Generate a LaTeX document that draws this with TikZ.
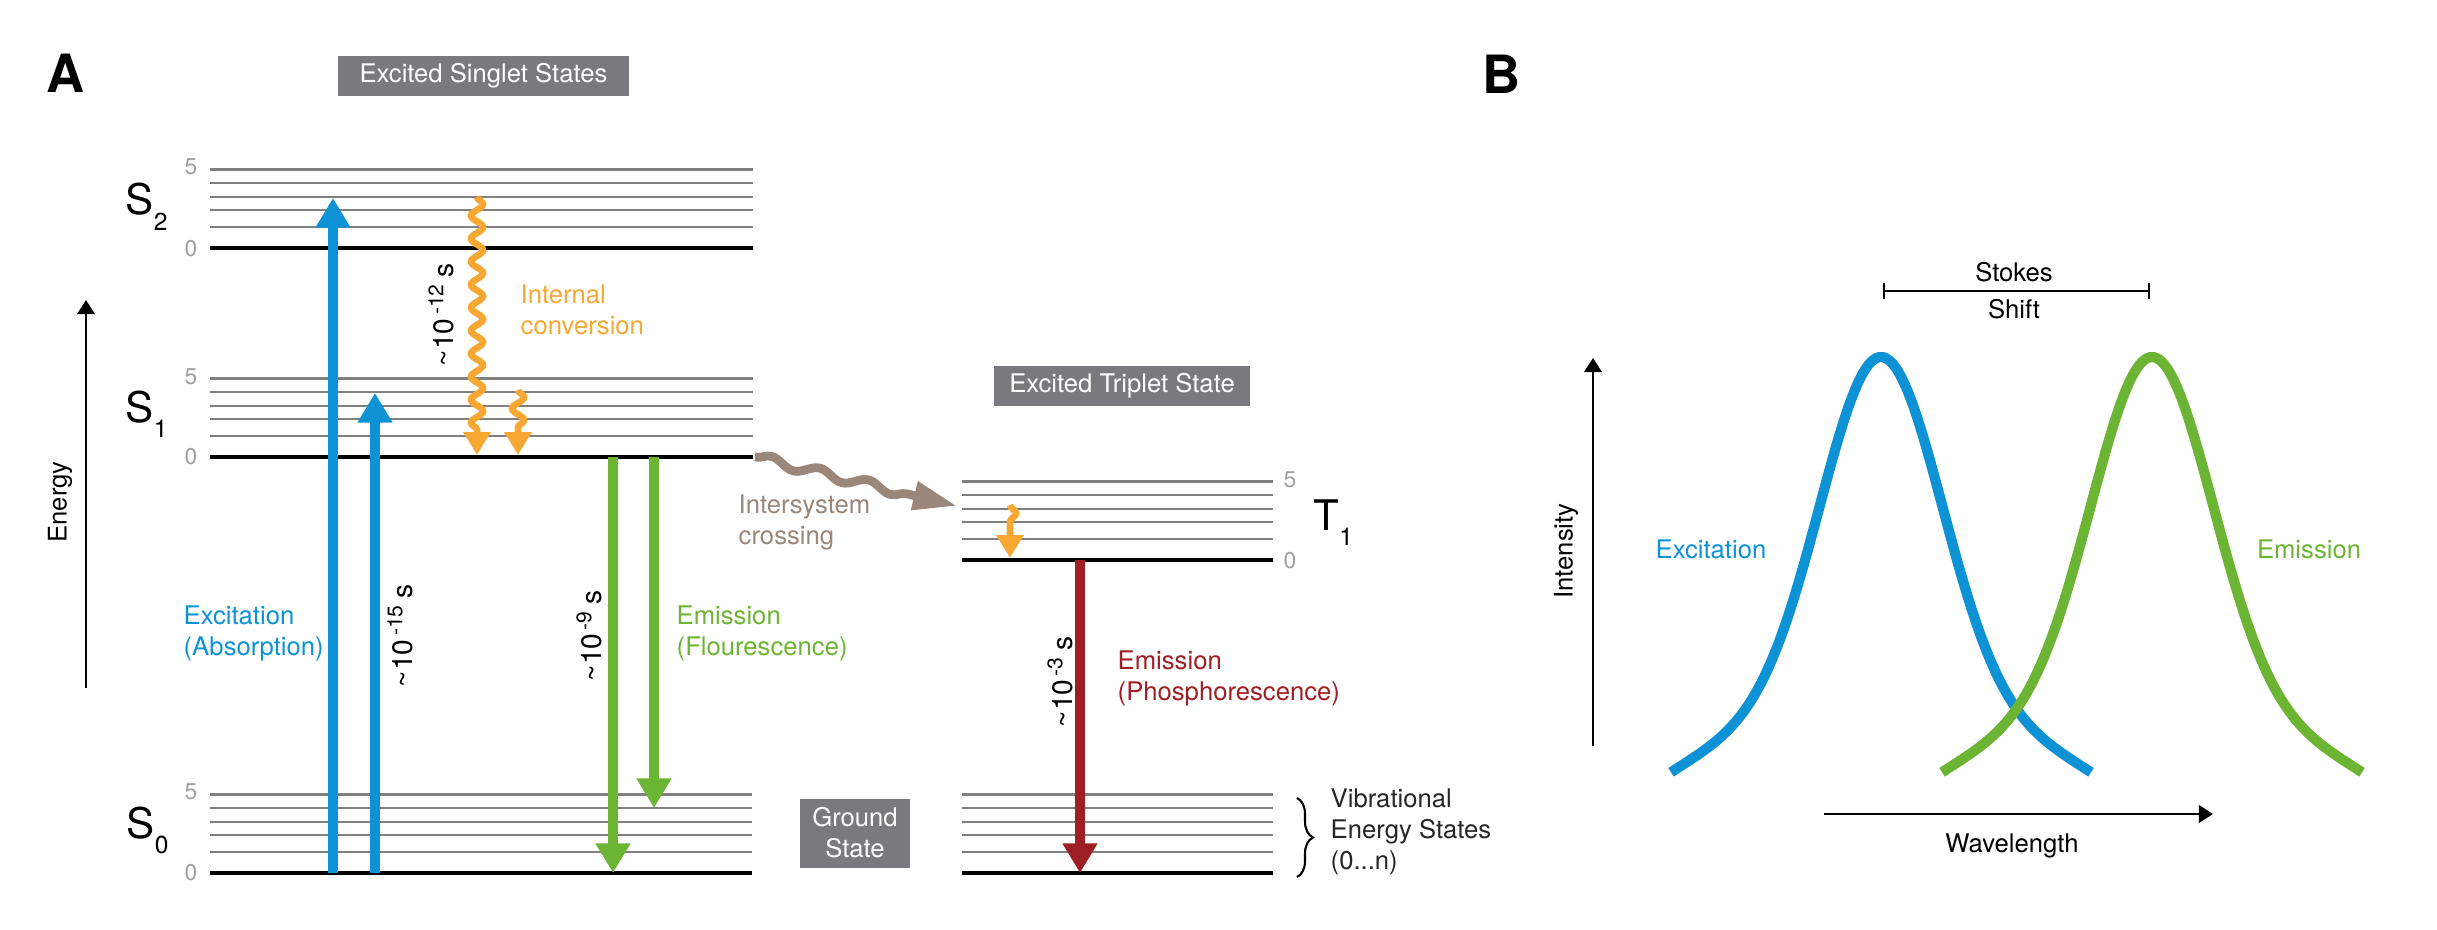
\documentclass[tikz,border=0pt]{standalone}
\usepackage{fontspec}
\setmainfont{TeX Gyre Heros}
\usetikzlibrary{arrows.meta,decorations.pathmorphing,decorations.pathreplacing}

\definecolor{absblue}{RGB}{14,146,214}
\definecolor{flgreen}{RGB}{108,180,52}
\definecolor{icorange}{RGB}{247,168,51}
\definecolor{phred}{RGB}{158,30,36}
\definecolor{iscbrown}{RGB}{155,134,122}
\definecolor{boxgray}{RGB}{122,122,126}
\definecolor{linegray}{RGB}{128,128,128}
\definecolor{numgray}{RGB}{160,160,160}

\tikzset{
  vibline/.style={draw=linegray, line width=0.6pt},
  zeroline/.style={draw=black, line width=0.9pt},
  statebox/.style={fill=boxgray, text=white, inner sep=0pt, align=center,
    font=\fontsize{7.3}{8.8}\selectfont},
  bigarrow/.style={line width=2.9pt, -{Triangle[width=9.4pt,length=8.4pt]}},
  wavy/.style={icorange, line width=1.9pt, -{Triangle[width=7.4pt,length=6.5pt]},
    decorate, decoration={snake, segment length=2.3mm, amplitude=0.6mm, post length=2.4mm}},
  lbl/.style={font=\fontsize{7.3}{8.8}\selectfont, inner sep=0pt, align=left},
  timelbl/.style={font=\fontsize{8}{8}\selectfont, inner sep=0pt, rotate=90},
  num/.style={text=numgray, font=\fontsize{6.5}{6.5}\selectfont, inner sep=0pt},
  axis/.style={line width=0.5pt, -{Triangle[width=5pt,length=4pt]}},
  spectrum/.style={line width=2.9pt},
}

% ladder of vibrational levels: x from, x to, y of level 0
\newcommand{\ladder}[3]{%
  \foreach \d in {0.21,0.38,0.51,0.65,0.785} \draw[vibline] (#1,#3-\d) -- (#2,#3-\d);
  \draw[zeroline] (#1,#3) -- (#2,#3);}
\newcommand{\slabel}[2]{{\fontsize{12}{12}\selectfont #1}\raisebox{-4.3pt}{\fontsize{7}{7}\selectfont #2}}
% band shape, peak at 0
\newcommand{\band}[1]{7.73-4.16*(0.85*exp(-(#1)*(#1)/0.72)+0.15*(1-(#1)*(#1)/4.41))}

\begin{document}
\begin{tikzpicture}[x=1cm, y=-1cm]
  \useasboundingbox (0,0) rectangle (24.37,9.30);

  % panel A
  \node[font=\fontsize{15}{15}\selectfont\bfseries, inner sep=0pt] (panA) at (0.66,0.73) {A};
  \node[statebox, minimum width=2.91cm, minimum height=0.40cm] (singbox) at (4.835,0.76) {Excited Singlet States};
  \node[statebox, minimum width=2.56cm, minimum height=0.40cm] (tripbox) at (11.22,3.86) {Excited Triplet State};
  \node[statebox, minimum width=1.10cm, minimum height=0.69cm] (gndbox) at (8.55,8.33) {Ground\\State};

  % levels
  \ladder{2.10}{7.53}{2.48}
  \ladder{2.10}{7.53}{4.57}
  \ladder{2.10}{7.52}{8.73}
  \ladder{9.62}{12.73}{5.60}
  \ladder{9.62}{12.73}{8.73}

  \node[anchor=base west, inner sep=0pt] (s2) at (1.25,2.15) {\slabel{S}{2}};
  \node[anchor=base west, inner sep=0pt] (s1) at (1.25,4.22) {\slabel{S}{1}};
  \node[anchor=base west, inner sep=0pt] (s0) at (1.26,8.38) {\slabel{S}{0}};
  \node[anchor=base west, inner sep=0pt] (t1) at (13.13,5.30) {\slabel{T}{1}};

  \node[num] (s2five) at (1.91,1.67) {5};  \node[num] (s2zero) at (1.91,2.49) {0};
  \node[num] (s1five) at (1.91,3.77) {5};  \node[num] (s1zero) at (1.91,4.57) {0};
  \node[num] (s0five) at (1.91,7.92) {5};  \node[num] (s0zero) at (1.91,8.73) {0};
  \node[num] (t1five) at (12.90,4.80) {5}; \node[num] (t1zero) at (12.90,5.61) {0};

  % energy axis
  \coordinate (enBot) at (0.86,6.88);
  \coordinate (enTop) at (0.86,3.00);
  \draw[axis] (enBot) -- (enTop);
  \node[lbl, rotate=90] (enlbl) at (0.60,5.02) {Energy};

  % excitation
  \coordinate (exaBot) at (3.33,8.73); \coordinate (exaTop) at (3.33,1.98);
  \coordinate (exbBot) at (3.75,8.73); \coordinate (exbTop) at (3.75,3.93);
  \draw[bigarrow, absblue] (exaBot) -- (exaTop);
  \draw[bigarrow, absblue] (exbBot) -- (exbTop);
  \node[lbl, absblue, anchor=west] (exclbl) at (1.83,6.33) {Excitation\\(Absorption)};
  \node[timelbl] (t15) at (4.00,6.36) {\textasciitilde10\textsuperscript{\,-15}\,s};

  % internal conversion
  \coordinate (icaTop) at (4.77,1.97); \coordinate (icaBot) at (4.77,4.55);
  \coordinate (icbTop) at (5.18,3.90); \coordinate (icbBot) at (5.18,4.55);
  \coordinate (ictTop) at (10.10,5.05); \coordinate (ictBot) at (10.10,5.58);
  \draw[wavy] (icaTop) -- (icaBot);
  \draw[wavy] (icbTop) -- (icbBot);
  \draw[wavy, decoration={segment length=2.7mm}] (ictTop) -- (ictBot);
  \node[lbl, icorange, anchor=west] (iclbl) at (5.20,3.10) {Internal\\conversion};
  \node[timelbl] (t12) at (4.41,3.15) {\textasciitilde10\textsuperscript{\,-12}\,s};

  % fluorescence
  \coordinate (flaTop) at (6.13,4.57); \coordinate (flaBot) at (6.13,8.73);
  \coordinate (flbTop) at (6.54,4.57); \coordinate (flbBot) at (6.54,8.08);
  \draw[bigarrow, flgreen] (flaTop) -- (flaBot);
  \draw[bigarrow, flgreen] (flbTop) -- (flbBot);
  \node[lbl, flgreen, anchor=west] (fllbl) at (6.76,6.33) {Emission\\(Flourescence)};
  \node[timelbl] (t9) at (5.89,6.36) {\textasciitilde10\textsuperscript{\,-9}\,s};

  % intersystem crossing
  \coordinate (iscStart) at (7.55,4.57); \coordinate (iscEnd) at (9.57,5.06);
  \draw[iscbrown, line width=2.5pt, -{Triangle[width=7.8pt,length=12.5pt]}, decorate,
    decoration={snake, segment length=5mm, amplitude=0.45mm, post length=4.2mm}] (iscStart) -- (iscEnd);
  \node[lbl, iscbrown, anchor=west] (isclbl) at (7.38,5.22) {Intersystem\\crossing};

  % phosphorescence
  \coordinate (phTop) at (10.80,5.60); \coordinate (phBot) at (10.80,8.73);
  \draw[bigarrow, phred] (phTop) -- (phBot);
  \node[lbl, phred, anchor=west] (phlbl) at (11.17,6.78) {Emission\\(Phosphorescence)};
  \node[timelbl] (t3) at (10.60,6.82) {\textasciitilde10\textsuperscript{\,-3}\,s};

  % vibrational states
  \coordinate (brTop) at (12.97,7.98); \coordinate (brBot) at (12.97,8.77);
  \draw[line width=0.6pt, decorate, decoration={brace, amplitude=1.6mm}] (brTop) -- (brBot);
  \node[lbl, anchor=west, text=black!85] (viblbl) at (13.30,8.32) {Vibrational\\Energy States\\(0...n)};

  % panel B
  \node[font=\fontsize{15}{15}\selectfont\bfseries, inner sep=0pt] (panB) at (15.02,0.74) {B};
  \coordinate (intBot) at (15.93,7.46); \coordinate (intTop) at (15.93,3.58);
  \coordinate (wlStart) at (18.24,8.14); \coordinate (wlEnd) at (22.13,8.14);
  \draw[axis] (intBot) -- (intTop);
  \draw[axis] (wlStart) -- (wlEnd);
  \node[lbl, rotate=90] (intlbl) at (15.66,5.51) {Intensity};
  \node[lbl] (wllbl) at (20.12,8.46) {Wavelength};

  \coordinate (stkL) at (18.83,2.91); \coordinate (stkR) at (21.50,2.91);
  \draw[line width=0.6pt, {Bar[width=4.3pt]}-{Bar[width=4.3pt]}] (stkL) -- (stkR);
  \node[lbl] (stokes) at (20.14,2.72) {Stokes};
  \node[lbl] (shift) at (20.14,3.09) {Shift};

  \draw[spectrum, absblue] plot[domain=-2.1:2.1, samples=120] ({18.81+\x},{\band{\x}});
  \draw[spectrum, flgreen] plot[domain=-2.1:2.1, samples=120] ({21.52+\x},{\band{\x}});
  \node[lbl, absblue] (exclblB) at (17.11,5.49) {Excitation};
  \node[lbl, flgreen] (emlblB) at (23.09,5.49) {Emission};
\end{tikzpicture}
\end{document}
